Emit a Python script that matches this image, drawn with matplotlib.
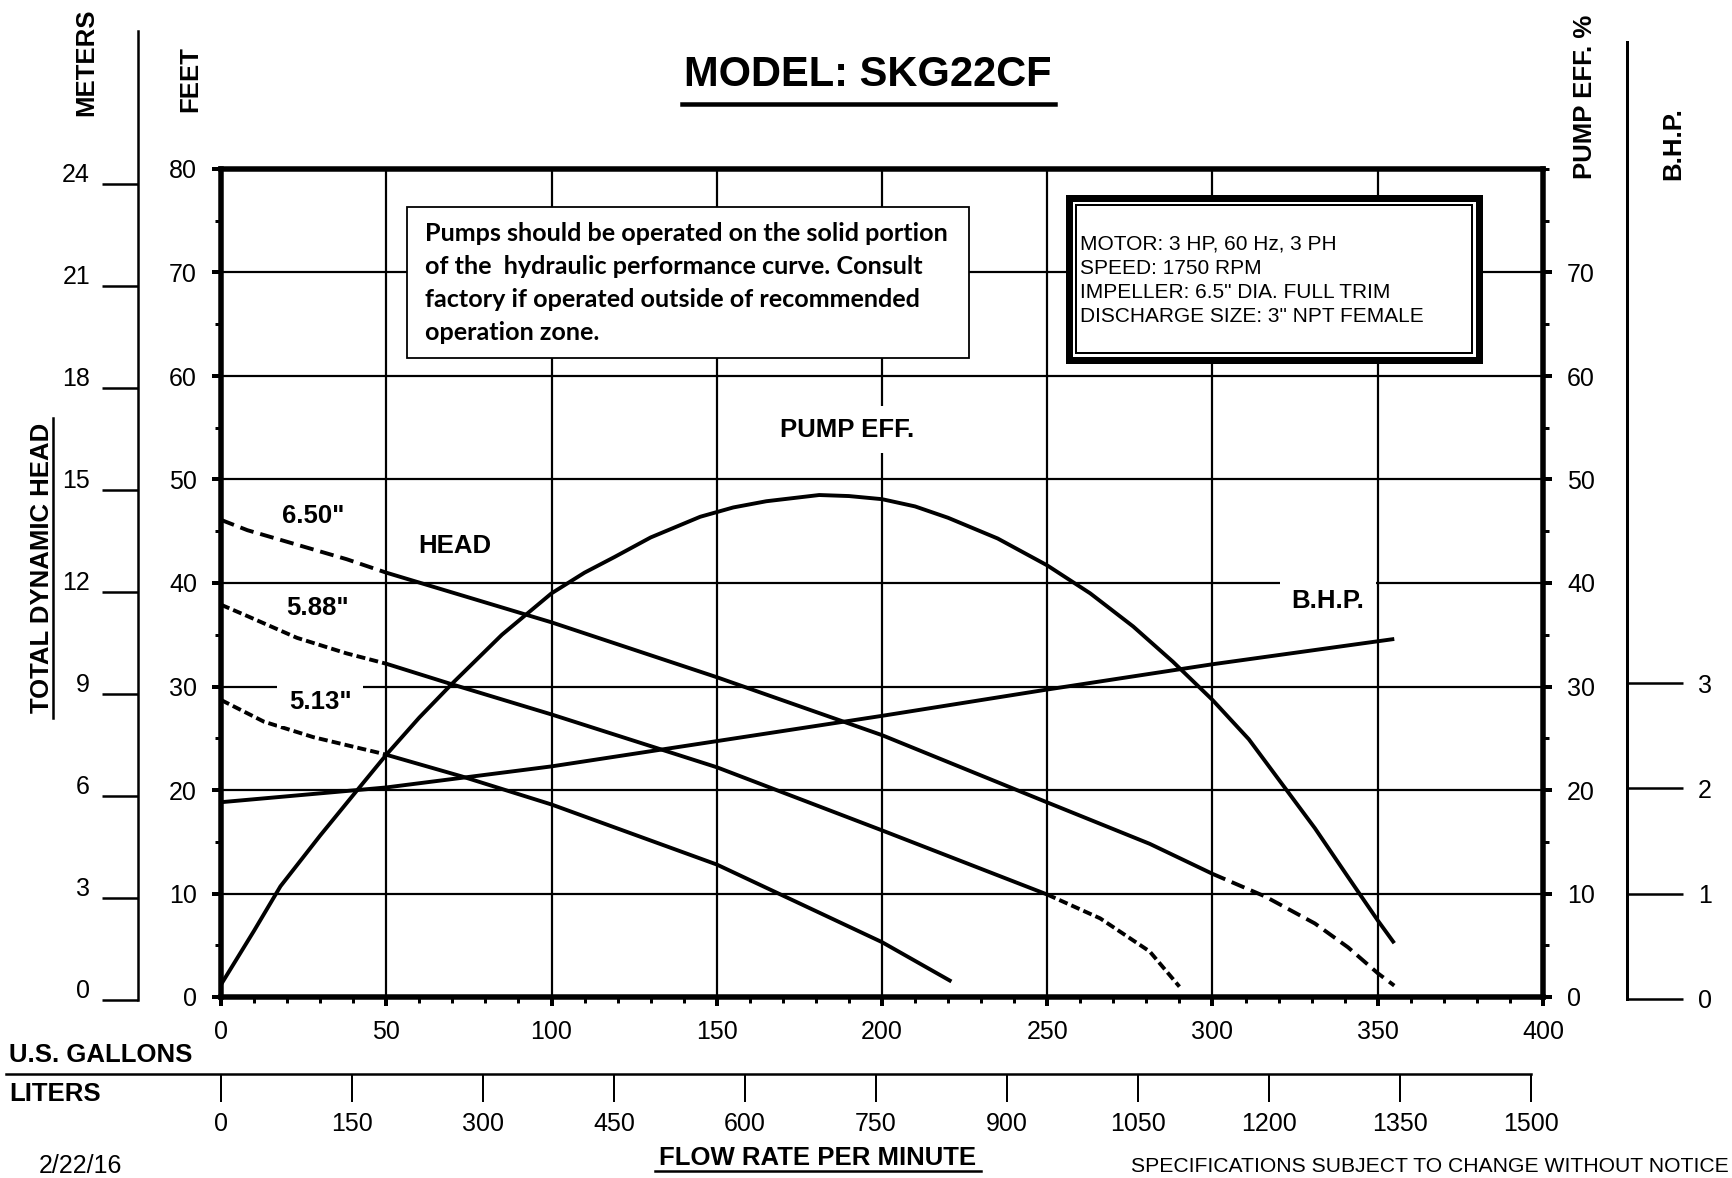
import matplotlib
matplotlib.use('Agg')
import matplotlib.pyplot as plt
from matplotlib.lines import Line2D
from matplotlib.patches import Rectangle
from matplotlib.ticker import MultipleLocator
from matplotlib.transforms import ScaledTranslation

OUTPUT_NAME = 'out.png'
W, H, DPI = 1733, 1178, 100

# scales
GPM_TICKS = [0, 50, 100, 150, 200, 250, 300, 350, 400]
LITER_TICKS = [0, 150, 300, 450, 600, 750, 900, 1050, 1200, 1350, 1500]
FEET_TICKS = [0, 10, 20, 30, 40, 50, 60, 70, 80]
METER_TICKS = [0, 3, 6, 9, 12, 15, 18, 21, 24]
EFF_TICKS = [0, 10, 20, 30, 40, 50, 60, 70]
BHP_TICKS = [0, 1, 2, 3]

# head curves, flow in US gpm, head in feet (dashed = outside operating zone)
H650_DASH_Q = [0, 8, 23, 38, 50]
H650_DASH_FT = [46.1, 45.1, 43.7, 42.3, 41.0]
H650_Q = [50, 100, 150, 200, 250, 281, 300]
H650_FT = [41.0, 36.2, 30.9, 25.3, 18.8, 14.8, 11.9]
H650_END_Q = [300, 316, 331, 341, 350, 355]
H650_END_FT = [11.9, 9.7, 7.1, 4.8, 2.3, 1.1]

H588_DASH_Q = [0, 8, 23, 38, 50]
H588_DASH_FT = [37.9, 36.8, 34.7, 33.2, 32.2]
H588_Q = [50, 70, 100, 150, 200, 250]
H588_FT = [32.2, 30.2, 27.3, 22.2, 16.1, 9.9]
H588_END_Q = [250, 266, 281, 290]
H588_END_FT = [9.9, 7.6, 4.4, 1.0]

H513_DASH_Q = [0, 13, 28, 49]
H513_DASH_FT = [28.7, 26.6, 25.1, 23.5]
H513_Q = [49, 73, 100, 150, 200, 221]
H513_FT = [23.5, 21.3, 18.6, 12.8, 5.3, 1.5]

# pump efficiency (%)
EFF_Q = [0, 10, 18, 30, 41, 50, 60, 70, 85, 100, 110, 119, 130, 145, 155, 165,
         181, 190, 200, 210, 220, 235, 250, 263, 276, 288, 300, 311, 321, 331,
         341, 350, 355]
EFF_PCT = [1.2, 6.4, 10.7, 15.6, 19.9, 23.4, 27.0, 30.3, 35.0, 39.0, 41.0, 42.5,
           44.4, 46.4, 47.3, 47.9, 48.5, 48.4, 48.1, 47.4, 46.3, 44.3, 41.7,
           39.0, 35.8, 32.4, 28.7, 24.9, 20.6, 16.3, 11.6, 7.4, 5.2]

# brake horsepower
BHP_Q = [0, 50, 100, 150, 200, 250, 300, 355]
BHP_HP = [1.85, 1.99, 2.19, 2.43, 2.67, 2.92, 3.16, 3.40]

NOTE_LINES = [
    'Pumps should be operated on the solid portion',
    'of the  hydraulic performance curve. Consult',
    'factory if operated outside of recommended',
    'operation zone.',
]
MOTOR_LINES = [
    'MOTOR: 3 HP, 60 Hz, 3 PH',
    'SPEED: 1750 RPM',
    'IMPELLER: 6.5" DIA. FULL TRIM',
    'DISCHARGE SIZE: 3" NPT FEMALE',
]

# layout in pixels of the output image
AX_L, AX_R, AX_T, AX_B = 221, 1543, 169, 997
M_X, M_TOP, M_BOT, M_PX = 138, 31, 1000, 34.0
B_X, B_TOP, B_BOT, B_PX = 1627, 42, 999, 105.3
L_Y, L_X0 = 1074, 6
GAL_TO_L = 3.78541

LW = 2.8
BOLD = 18.5
FS = 18

plt.rcParams['font.family'] = ['Liberation Sans', 'DejaVu Sans']
plt.rcParams['lines.scale_dashes'] = False


def pt(px):
    return px * 72.0 / DPI


def fxy(px, py):
    return px / W, 1 - py / H


def rect(left, top, right, bottom):
    return [left / W, 1 - bottom / H, (right - left) / W, (bottom - top) / H]


def fig_line(fig, xs, ys, lw):
    fig.add_artist(Line2D([x / W for x in xs], [1 - y / H for y in ys],
                          color='black', lw=lw, transform=fig.transFigure))


def main_axes(fig):
    ax = fig.add_axes(rect(AX_L, AX_T, AX_R, AX_B))
    ax.set_xlim(0, 400)
    ax.set_ylim(0, 80)
    ax.set_xticks(GPM_TICKS)
    ax.set_yticks(FEET_TICKS)
    ax.xaxis.set_minor_locator(MultipleLocator(10))
    ax.yaxis.set_minor_locator(MultipleLocator(5))
    ax.tick_params(which='major', direction='out', length=pt(9), width=pt(4),
                   labelsize=FS, pad=pt(15))
    ax.tick_params(which='minor', direction='out', length=pt(6), width=pt(3))
    ax.tick_params(axis='x', which='both', top=False)
    ax.tick_params(axis='y', which='both', right=False)
    ax.tick_params(axis='x', which='major', pad=pt(14))
    for s in ax.spines.values():
        s.set_linewidth(pt(5.5))
    ax.grid(True, which='major', color='black', lw=pt(2.2))

    dash_big = (0, (10, 5))
    dash_small = (0, (6.5, 3))
    kw = dict(color='black', lw=LW, solid_capstyle='butt', dash_capstyle='butt',
              solid_joinstyle='round')
    ax.plot(H650_DASH_Q, H650_DASH_FT, ls=dash_big, **kw)
    ax.plot(H650_Q, H650_FT, **kw)
    ax.plot(H650_END_Q, H650_END_FT, ls=dash_big, **kw)
    ax.plot(H588_DASH_Q, H588_DASH_FT, ls=dash_small, **kw)
    ax.plot(H588_Q, H588_FT, **kw)
    ax.plot(H588_END_Q, H588_END_FT, ls=dash_small, **kw)
    ax.plot(H513_DASH_Q, H513_DASH_FT, ls=dash_small, **kw)
    ax.plot(H513_Q, H513_FT, **kw)

    lab = dict(fontsize=BOLD, fontweight='bold', ha='center', va='center', zorder=5)
    white = dict(facecolor='white', edgecolor='none', boxstyle='square,pad=0.45')
    ax.text(27.9, 46.5, '6.50"', **lab)
    ax.text(70.8, 43.6, 'HEAD', **lab)
    ax.text(29.2, 37.6, '5.88"', **lab)
    ax.text(30.0, 28.5, '5.13"', bbox=white, **lab)
    ax.text(189.4, 54.8, 'PUMP EFF.', bbox=white, **lab)
    ax.text(335.0, 38.3, 'B.H.P.', bbox=white, **lab)

    # pump efficiency on the right-hand scale
    ax_e = ax.twinx()
    ax_e.set_ylim(0, 80)
    ax_e.set_yticks(EFF_TICKS)
    ax_e.yaxis.set_minor_locator(MultipleLocator(5))
    ax_e.tick_params(which='major', direction='out', length=pt(9), width=pt(4),
                     labelsize=FS, pad=pt(15))
    ax_e.tick_params(which='minor', direction='out', length=pt(6), width=pt(3))
    for s in ax_e.spines.values():
        s.set_visible(False)
    ax_e.plot(EFF_Q, EFF_PCT, **kw)

    # brake horsepower, same pixel scale as the B.H.P. ruler
    ax_b = ax.twinx()
    ax_b.set_ylim(0, (AX_B - AX_T) / B_PX)
    ax_b.axis('off')
    ax_b.plot(BHP_Q, BHP_HP, **kw)
    return ax


def meters_axis(fig):
    ax = fig.add_axes(rect(M_X, M_TOP, M_X + 1, M_BOT))
    ax.patch.set_visible(False)
    ax.set_ylim(0, (M_BOT - M_TOP) / M_PX)
    ax.set_yticks(METER_TICKS)
    ax.set_xticks([])
    for k, s in ax.spines.items():
        s.set_visible(k == 'left')
    ax.spines['left'].set_linewidth(pt(2.5))
    ax.tick_params(axis='y', direction='out', length=pt(36), width=pt(2.5),
                   labelsize=FS, pad=pt(12))
    shift = ScaledTranslation(0, 12.0 / DPI, fig.dpi_scale_trans)
    for t in ax.get_yticklabels():
        t.set_transform(t.get_transform() + shift)


def bhp_axis(fig):
    ax = fig.add_axes(rect(B_X - 1, B_TOP, B_X, B_BOT))
    ax.patch.set_visible(False)
    ax.set_ylim(0, (B_BOT - B_TOP) / B_PX)
    ax.set_yticks(BHP_TICKS)
    ax.set_xticks([])
    for k, s in ax.spines.items():
        s.set_visible(k == 'right')
    ax.spines['right'].set_linewidth(pt(3))
    ax.yaxis.tick_right()
    ax.tick_params(axis='y', direction='out', length=pt(56), width=pt(2.5),
                   labelsize=FS, pad=pt(15))


def liters_axis(fig):
    l_per_px = 400.0 / (AX_R - AX_L) * GAL_TO_L
    x_right = AX_L + LITER_TICKS[-1] / l_per_px
    ax = fig.add_axes(rect(L_X0, L_Y - 1, x_right, L_Y))
    ax.patch.set_visible(False)
    ax.set_xlim((L_X0 - AX_L) * l_per_px, LITER_TICKS[-1])
    ax.set_xticks(LITER_TICKS)
    ax.set_yticks([])
    for k, s in ax.spines.items():
        s.set_visible(k == 'bottom')
    ax.spines['bottom'].set_linewidth(pt(2.5))
    ax.tick_params(axis='x', direction='out', length=pt(28), width=pt(2),
                   labelsize=FS, pad=pt(10))


def annotations(fig):
    bold = dict(fontsize=BOLD, fontweight='bold')
    fig.text(*fxy(868, 75), 'MODEL: SKG22CF', fontsize=30, fontweight='bold',
             ha='center', va='center')
    fig_line(fig, [682, 1055], [104, 104], pt(4.5))

    fig.text(*fxy(86, 62), 'METERS', rotation=90, ha='center', va='center', **bold)
    fig.text(*fxy(190, 79), 'FEET', rotation=90, ha='center', va='center', **bold)
    fig.text(*fxy(42, 568), 'TOTAL DYNAMIC HEAD', rotation=90, ha='center',
             va='center', **bold)
    fig_line(fig, [53, 53], [418, 718], pt(2.5))
    fig.text(*fxy(1585, 97), 'PUMP EFF. %', rotation=90, ha='center', va='center', **bold)
    fig.text(*fxy(1673, 144), 'B.H.P.', rotation=90, ha='center', va='center', **bold)

    fig.text(*fxy(9, 1055), 'U.S. GALLONS', ha='left', va='center', **bold)
    fig.text(*fxy(9, 1094), 'LITERS', ha='left', va='center', **bold)
    fig.text(*fxy(39, 1166), '2/22/16', ha='left', va='center', fontsize=FS)
    fig.text(*fxy(818, 1158), 'FLOW RATE PER MINUTE', ha='center', va='center', **bold)
    fig_line(fig, [655, 981], [1171, 1171], pt(2.5))
    fig.text(*fxy(1729, 1167), 'SPECIFICATIONS SUBJECT TO CHANGE WITHOUT NOTICE',
             ha='right', va='center', fontsize=15.2)

    # note box
    l, t, r, b = 407, 207, 969, 358
    fig.add_artist(Rectangle(fxy(l, b), (r - l) / W, (b - t) / H, facecolor='white',
                             edgecolor='black', lw=pt(1.8), transform=fig.transFigure,
                             zorder=10))
    for i, line in enumerate(NOTE_LINES):
        fig.text(*fxy(425, 241 + i * 33), line, fontfamily='Lato', fontweight='bold',
                 fontsize=18.1, ha='left', va='baseline', zorder=11)

    # motor box, double frame
    l, t, r, b = 1068.5, 197.5, 1478.5, 359.5
    fig.add_artist(Rectangle(fxy(l, b), (r - l) / W, (b - t) / H, facecolor='white',
                             edgecolor='black', lw=pt(7), transform=fig.transFigure,
                             zorder=10))
    l, t, r, b = 1076, 205, 1471.5, 352.5
    fig.add_artist(Rectangle(fxy(l, b), (r - l) / W, (b - t) / H, facecolor='white',
                             edgecolor='black', lw=pt(2), transform=fig.transFigure,
                             zorder=10))
    for i, line in enumerate(MOTOR_LINES):
        fig.text(*fxy(1080, 249.5 + i * 24), line, fontsize=15, ha='left',
                 va='baseline', zorder=11)


def plot():
    fig = plt.figure(figsize=(W / DPI, H / DPI), dpi=DPI)
    main_axes(fig)
    meters_axis(fig)
    bhp_axis(fig)
    liters_axis(fig)
    annotations(fig)
    fig.savefig(OUTPUT_NAME, dpi=DPI, facecolor='white')


if __name__ == '__main__':
    plot()
